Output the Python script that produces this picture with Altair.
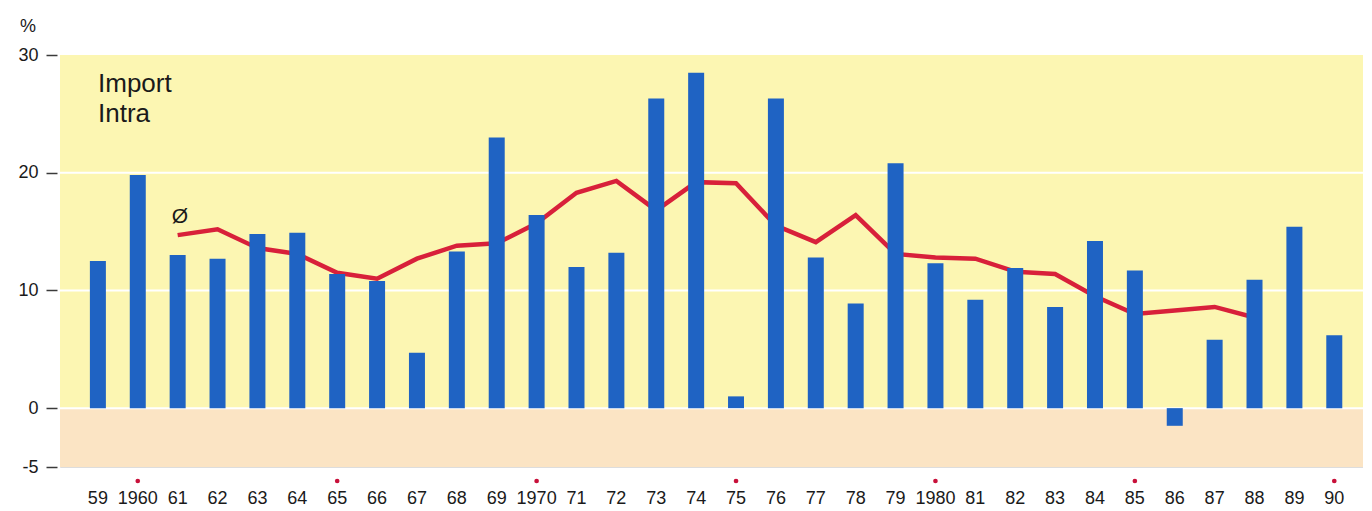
import altair as alt
import pandas as pd

# ---- data ----
years = list(range(1959, 1991))
import_growth = [12.5, 19.8, 13.0, 12.7, 14.8, 14.9, 11.4, 10.8, 4.7, 13.3,
                 23.0, 16.4, 12.0, 13.2, 26.3, 28.5, 1.0, 26.3, 12.8, 8.9,
                 20.8, 12.3, 9.2, 11.9, 8.6, 14.2, 11.7, -1.5, 5.8, 10.9,
                 15.4, 6.2]
avg_years = list(range(1961, 1989))
avg_growth = [14.7, 15.2, 13.6, 13.1, 11.5, 11.0, 12.7, 13.8, 14.0, 15.7,
              18.3, 19.3, 16.8, 19.2, 19.1, 15.5, 14.1, 16.4, 13.1, 12.8,
              12.7, 11.6, 11.4, 9.5, 8.0, 8.3, 8.6, 7.7]
year_labels = ["59", "1960", "61", "62", "63", "64", "65", "66", "67", "68",
               "69", "1970", "71", "72", "73", "74", "75", "76", "77", "78",
               "79", "1980", "81", "82", "83", "84", "85", "86", "87", "88",
               "89", "90"]
dot_years = [1960, 1965, 1970, 1975, 1980, 1985, 1990]
y_ticks = [-5, 0, 10, 20, 30]
grid_values = [0, 10, 20]
x_domain = [1958.05, 1990.72]
y_domain = [-5, 30]

W, H = 1303, 412
FONT = "Liberation Sans"
YELLOW = "#fcf6b2"
PINK = "#fbe4c4"
BLUE = "#1f63c3"
RED = "#d8203a"

bars_df = pd.DataFrame({"year": years, "value": import_growth})
avg_df = pd.DataFrame({"year": avg_years, "value": avg_growth})
lab_df = pd.DataFrame({"year": years, "label": year_labels})
dot_df = pd.DataFrame({"year": dot_years})
bg_df = pd.DataFrame({"x0": [x_domain[0]] * 2, "x1": [x_domain[1]] * 2,
                      "y0": [0, -5], "y1": [30, 0], "c": [YELLOW, PINK]})
grid_df = pd.DataFrame({"v": grid_values})

xs = alt.Scale(domain=x_domain, nice=False, zero=False, padding=0)
ys = alt.Scale(domain=y_domain, nice=False, zero=False, padding=0)

y_axis = alt.Axis(values=y_ticks, title=None, grid=False, domain=False,
                  offset=3, tickSize=11, tickColor="#3a3a3a",
                  tickWidth=1.5, labelPadding=8, labelFontSize=18,
                  labelFont=FONT, labelColor="#1a1a1a",
                  labelExpr="'' + datum.value")

bg = alt.Chart(bg_df).mark_rect().encode(
    x=alt.X("x0:Q", scale=xs, axis=None),
    x2="x1:Q",
    y=alt.Y("y0:Q", scale=ys, axis=y_axis),
    y2="y1:Q",
    color=alt.Color("c:N", scale=None),
)

grid = alt.Chart(grid_df).mark_rule(color="white", strokeWidth=2).encode(
    y=alt.Y("v:Q", scale=ys, axis=y_axis)
)

line = alt.Chart(avg_df).mark_line(color=RED, strokeWidth=4.5,
                                   strokeJoin="miter").encode(
    x=alt.X("year:Q", scale=xs, axis=None),
    y=alt.Y("value:Q", scale=ys, axis=y_axis),
)

bars = alt.Chart(bars_df).mark_bar(color=BLUE, size=16).encode(
    x=alt.X("year:Q", scale=xs, axis=None),
    y=alt.Y("value:Q", scale=ys, axis=y_axis),
    y2=alt.datum(0),
)

xlabels = alt.Chart(lab_df).mark_text(font=FONT, fontSize=18, color="#1a1a1a",
                                      baseline="alphabetic", align="center").encode(
    x=alt.X("year:Q", scale=xs, axis=None),
    y=alt.value(449),
    text="label:N",
)

dots = alt.Chart(dot_df).mark_circle(color="#c8103a", size=22, opacity=1).encode(
    x=alt.X("year:Q", scale=xs, axis=None),
    y=alt.value(426),
)

title_txt = alt.Chart(pd.DataFrame({"t": [["Import", "Intra"]]})).mark_text(
    font=FONT, fontSize=26, color="#1a1a1a", align="left",
    baseline="alphabetic", lineHeight=30
).encode(x=alt.value(38), y=alt.value(37), text="t")

avg_txt = alt.Chart(pd.DataFrame({"t": ["Ø"]})).mark_text(
    font=FONT, fontSize=21, color="#1a1a1a", align="center",
    baseline="alphabetic"
).encode(x=alt.value(120), y=alt.value(168), text="t:N")

pct_txt = alt.Chart(pd.DataFrame({"t": ["%"]})).mark_text(
    font=FONT, fontSize=18, color="#1a1a1a", align="center",
    baseline="alphabetic"
).encode(x=alt.value(-32), y=alt.value(-23), text="t:N")

chart = alt.layer(bg, grid, line, bars, xlabels, dots, title_txt, avg_txt,
                  pct_txt).properties(
    width=W, height=H,
    autosize="none",
    padding={"left": 52, "top": 47, "right": 0, "bottom": 40},
).configure_view(strokeWidth=0).configure(background="white")

chart.save("out.html", embed_options={"renderer": "svg", "actions": False})
